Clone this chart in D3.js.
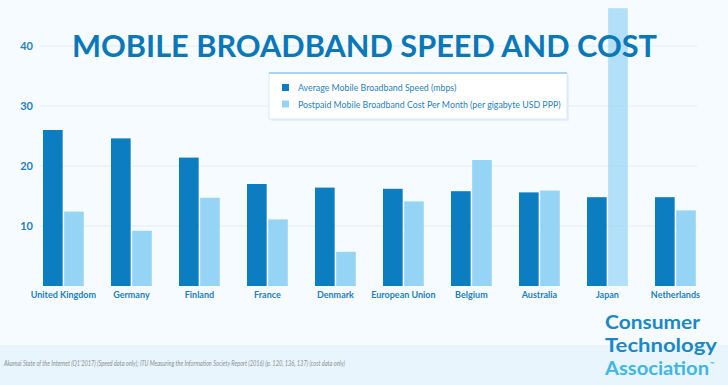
<!DOCTYPE html>
<html>
<head>
<meta charset="utf-8">
<script src="https://cdn.jsdelivr.net/npm/d3@7"></script>
<style>
  body { margin: 0; background: #f5fbfe; }
  svg { display: block; font-family: Lato, "Open Sans", sans-serif; }
</style>
</head>
<body>
<div id="chart"></div>
<script>
// donnees
let countries = ['United Kingdom', 'Germany', 'Finland', 'France', 'Denmark', 'European Union', 'Belgium', 'Australia', 'Japan', 'Netherlands'];
let speed = [26.0, 24.6, 21.4, 17.0, 16.4, 16.2, 15.8, 15.6, 14.8, 14.8];
let cost = [12.4, 9.2, 14.7, 11.1, 5.7, 14.1, 21.0, 15.9, 46.3, 12.6];
let yTicks = [10, 20, 30, 40];
let seriesNames = ['Average Mobile Broadband Speed (mbps)', 'Postpaid Mobile Broadband Cost Per Month (per gigabyte USD PPP)'];

let width = 728;
let height = 385;
let colors = ['#0b7dc0', '#96d4f5'];

let svg = d3.select('#chart').append('svg').attr('width', width).attr('height', height);

svg.append('rect').attr('width', width).attr('height', height).attr('fill', '#f5fbfe');
// bande du bas
svg.append('rect').attr('x', 0).attr('y', 345).attr('width', width).attr('height', 40).attr('fill', '#e8f5fd');

let y = d3.scaleLinear().domain([0, 40]).range([286, 46]);
let x = d3.scaleBand().domain(countries).range([29.4, 709.4]).paddingInner(0.4).paddingOuter(0.2);
let x1 = d3.scaleBand().domain([0, 1]).range([0, x.bandwidth()]).paddingInner(0.07);

// grille
let grid = svg.append('g').attr('class', 'grid');
grid.selectAll('line').data(yTicks).enter().append('line')
    .attr('x1', 40).attr('x2', 697)
    .attr('y1', d => y(d)).attr('y2', d => y(d))
    .attr('stroke', '#e1eef7').attr('stroke-width', 1);

let yAxis = d3.axisLeft(y).tickValues(yTicks).tickSize(0).tickPadding(0);
let gy = svg.append('g').attr('transform', 'translate(33,0)').call(yAxis);
gy.select('.domain').remove();
gy.selectAll('text').attr('fill', '#1f7fba').attr('font-size', 11).attr('font-weight', 'bold')
    .attr('font-family', 'Lato, sans-serif');

// barres
let groups = svg.selectAll('g.country').data(countries).enter().append('g')
    .attr('class', 'country')
    .attr('transform', d => 'translate(' + x(d) + ',0)');

groups.append('rect')
    .attr('x', x1(0)).attr('width', x1.bandwidth())
    .attr('y', (d, i) => y(speed[i]))
    .attr('height', (d, i) => y(0) - y(speed[i]))
    .attr('fill', colors[0]);

groups.append('rect')
    .attr('x', x1(1)).attr('width', x1.bandwidth())
    .attr('y', (d, i) => y(cost[i]))
    .attr('height', (d, i) => y(0) - y(cost[i]))
    .attr('fill', colors[1])
    .attr('opacity', (d, i) => cost[i] > 40 ? 0.7 : 1);

let xAxis = d3.axisBottom(x).tickSize(0).tickPadding(6);
let gx = svg.append('g').attr('transform', 'translate(0,286)').call(xAxis);
gx.select('.domain').remove();
gx.selectAll('text').attr('fill', '#1f7fba').attr('font-size', 9).attr('font-weight', 'bold')
    .attr('font-family', 'Lato, sans-serif');

// titre
svg.append('text')
    .attr('x', 364.5).attr('y', 57)
    .attr('text-anchor', 'middle')
    .attr('font-size', 30).attr('font-weight', 'bold')
    .attr('fill', '#0a78b8')
    .attr('textLength', 585).attr('lengthAdjust', 'spacingAndGlyphs')
    .text('MOBILE BROADBAND SPEED AND COST');

// legende
let legend = svg.append('g').attr('class', 'legend');
legend.append('rect').attr('x', 271).attr('y', 75).attr('width', 298).attr('height', 46)
    .attr('fill', '#e4eef5').attr('opacity', 0.8);
legend.append('rect').attr('x', 269).attr('y', 73).attr('width', 298).attr('height', 46)
    .attr('fill', '#ffffff').attr('stroke', '#cfe6f4').attr('stroke-width', 0.8);
legend.append('line').attr('x1', 269).attr('x2', 567).attr('y1', 73).attr('y2', 73)
    .attr('stroke', '#8fcbed').attr('stroke-width', 1.5);

let items = legend.selectAll('g.item').data(seriesNames).enter().append('g')
    .attr('class', 'item')
    .attr('transform', (d, i) => 'translate(282,' + (84 + i * 16.5) + ')');
items.append('rect').attr('width', 7).attr('height', 7).attr('fill', (d, i) => colors[i]);
items.append('text').attr('x', 16).attr('y', 7)
    .attr('font-size', 8.8).attr('fill', '#1f7fba')
    .text(d => d);

// source
svg.append('text')
    .attr('x', 4).attr('y', 366)
    .attr('font-size', 7.5).attr('font-style', 'italic').attr('fill', '#8a8f94')
    .attr('textLength', 341).attr('lengthAdjust', 'spacingAndGlyphs')
    .text("Akamai State of the Internet (Q1'2017) (Speed data only); ITU Measuring the Information Society Report (2016) (p. 120, 136, 137) (cost data only)");

// logo
let logo = svg.append('g').attr('font-family', 'Lato, sans-serif').attr('font-size', 18.5).attr('font-weight', 'bold')
    .attr('lengthAdjust', 'spacingAndGlyphs');
logo.append('text').attr('x', 605).attr('y', 329).attr('fill', '#1a88c6')
    .attr('textLength', 95).attr('lengthAdjust', 'spacingAndGlyphs').text('Consumer');
logo.append('text').attr('x', 605).attr('y', 352).attr('fill', '#1a88c6')
    .attr('textLength', 112).attr('lengthAdjust', 'spacingAndGlyphs').text('Technology');
logo.append('text').attr('x', 605).attr('y', 375).attr('fill', '#3db7e6')
    .attr('textLength', 104).attr('lengthAdjust', 'spacingAndGlyphs').text('Association');
logo.append('text').attr('x', 710).attr('y', 366).attr('font-size', 6).attr('fill', '#3db7e6').text('™');
</script>
</body>
</html>
